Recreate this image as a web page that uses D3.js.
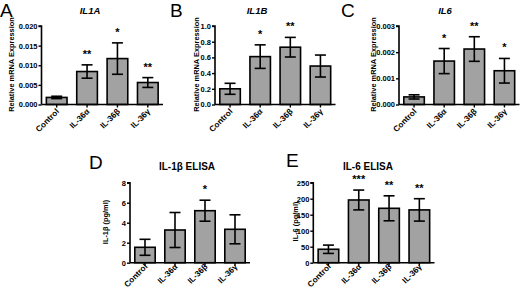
<!DOCTYPE html>
<html><head><meta charset="utf-8">
<script src="https://cdn.jsdelivr.net/npm/d3@7/dist/d3.min.js"></script>
<style>
body{margin:0;background:#fff;}
svg{display:block;font-family:"Liberation Sans",Arial,sans-serif;}
</style></head><body>
<svg id="chart" width="520" height="290"></svg>
<script>
const categories = ["Control", "IL-36α", "IL-36β", "IL-36γ"];

const il1aMean = [0.0018, 0.0084, 0.0117, 0.0056];
const il1aErr  = [0.0003, 0.0017, 0.0040, 0.00125];
const il1aStars = ["", "**", "*", "**"];
const il1aTicks = [0, 0.005, 0.010, 0.015, 0.020];

const il1bMean = [0.20, 0.61, 0.73, 0.49];
const il1bErr  = [0.07, 0.15, 0.125, 0.14];
const il1bStars = ["", "*", "**", ""];
const il1bTicks = [0, 0.2, 0.4, 0.6, 0.8, 1.0];

const il6Mean = [0.00029, 0.00166, 0.00212, 0.00129];
const il6Err  = [0.00008, 0.00048, 0.00047, 0.00047];
const il6Stars = ["", "*", "**", "*"];
const il6Ticks = [0, 0.001, 0.002, 0.003];

const elisa1bMean = [1.54, 3.27, 5.2, 3.34];
const elisa1bErr  = [0.8, 1.75, 1.05, 1.45];
const elisa1bStars = ["", "", "*", ""];
const elisa1bTicks = [0, 2, 4, 6, 8];

const elisa6Mean = [42, 196, 170, 165];
const elisa6Err  = [13, 31, 39, 35];
const elisa6Stars = ["", "***", "**", "**"];
const elisa6Ticks = [0, 50, 100, 150, 200, 250];

const svg = d3.select("#chart");

function panel(o) {
  const g = svg.append("g");
  const y = d3.scaleLinear().domain([0, o.ymax]).range([o.yb, o.yt]);
  const x = d3.scaleBand().domain(categories).range([o.x0, o.x1]).paddingInner(0.32).paddingOuter(0.16);

  g.selectAll("rect.bar").data(o.mean).enter().append("rect")
    .attr("x", (d, i) => x(categories[i]))
    .attr("width", x.bandwidth())
    .attr("y", d => y(d))
    .attr("height", d => y(0) - y(d))
    .attr("fill", "#a2a2a2").attr("stroke", "#000").attr("stroke-width", 1.6);

  const cap = 5.5;
  o.mean.forEach((m, i) => {
    const cx = x(categories[i]) + x.bandwidth() / 2;
    const e = o.err[i];
    const gg = g.append("g").attr("stroke", "#000").attr("stroke-width", 1.6);
    gg.append("line").attr("x1", cx).attr("x2", cx).attr("y1", y(m + e)).attr("y2", y(m - e));
    gg.append("line").attr("x1", cx - cap).attr("x2", cx + cap).attr("y1", y(m + e)).attr("y2", y(m + e));
    gg.append("line").attr("x1", cx - cap).attr("x2", cx + cap).attr("y1", y(m - e)).attr("y2", y(m - e));
    if (o.stars[i]) {
      g.append("text").attr("x", cx).attr("y", y(m + e) - 7)
        .attr("text-anchor", "middle").attr("font-size", 11).attr("font-weight", "bold")
        .text(o.stars[i]);
    }
  });

  const ya = d3.axisLeft(y).tickValues(o.ticks).tickSize(3).tickPadding(1).tickFormat(o.fmt);
  const yg = g.append("g").attr("transform", `translate(${o.x0},0)`).call(ya);
  yg.select(".domain").attr("stroke-width", 1.6).attr("d", `M-3,${o.yt}H0V${o.yb}`);
  yg.selectAll(".tick line").attr("stroke-width", 1.4);
  yg.selectAll("text").attr("font-size", 7.5).attr("font-weight", "bold").attr("font-family", "Liberation Sans, Arial, sans-serif");

  const xa = d3.axisBottom(x).tickSize(3).tickFormat("");
  const xg = g.append("g").attr("transform", `translate(0,${o.yb})`).call(xa);
  xg.select(".domain").attr("stroke-width", 1.6).attr("d", `M${o.x0},0H${o.x1}`);
  xg.selectAll(".tick line").attr("stroke-width", 1.4);
  categories.forEach(c => {
    const cx = x(c) + x.bandwidth() / 2;
    g.append("text").attr("transform", `translate(${cx + 3},${o.yb + o.lo}) rotate(-45)`)
      .attr("text-anchor", "end")
      .attr("font-size", 8.2).attr("font-weight", "bold").text(c);
  });

  g.append("text").attr("transform", `translate(${o.lx},${o.ly}) rotate(-90)`)
    .attr("text-anchor", "middle").attr("dy", "0.35em")
    .attr("font-size", 7.4).attr("font-weight", "bold").text(o.ylabel);

  g.append("text").attr("x", o.tx).attr("y", o.ty).attr("text-anchor", "middle")
    .attr("font-size", o.tsize).attr("font-weight", "bold").attr("font-style", o.italic ? "italic" : "normal")
    .text(o.title);

  g.append("text").attr("x", o.px).attr("y", o.py).attr("font-size", 19).text(o.letter);
}

const f3 = d3.format(".3f");
panel({mean: il1aMean, err: il1aErr, stars: il1aStars, ticks: il1aTicks, fmt: f3, ymax: 0.020,
  x0: 41.5, x1: 163, yt: 26, yb: 104.5, lo: 7.5, lx: 11, ly: 64.5, ylabel: "Relative mRNA Expression",
  title: "IL1A", italic: true, tx: 90, ty: 13.5, tsize: 9.5, letter: "A", px: 0, py: 17});
panel({mean: il1bMean, err: il1bErr, stars: il1bStars, ticks: il1bTicks, fmt: d3.format(".1f"), ymax: 1.0,
  x0: 215, x1: 335.5, yt: 26, yb: 104.5, lo: 7.5, lx: 196, ly: 64.5, ylabel: "Relative mRNA Expression",
  title: "IL1B", italic: true, tx: 257, ty: 13.5, tsize: 9.5, letter: "B", px: 170, py: 17});
panel({mean: il6Mean, err: il6Err, stars: il6Stars, ticks: il6Ticks, fmt: f3, ymax: 0.003,
  x0: 399, x1: 519.5, yt: 26, yb: 104.5, lo: 7.5, lx: 373, ly: 64.5, ylabel: "Relative mRNA Expression",
  title: "IL6", italic: true, tx: 445, ty: 13.5, tsize: 9.5, letter: "C", px: 341, py: 17});
panel({mean: elisa1bMean, err: elisa1bErr, stars: elisa1bStars, ticks: elisa1bTicks, fmt: d3.format("d"), ymax: 8,
  x0: 130, x1: 250, yt: 182.7, yb: 262.7, lo: 4.5, lx: 105, ly: 222, ylabel: "IL-1β (pg/ml)",
  title: "IL-1β ELISA", italic: false, tx: 187, ty: 170, tsize: 10, letter: "D", px: 89, py: 169});
panel({mean: elisa6Mean, err: elisa6Err, stars: elisa6Stars, ticks: elisa6Ticks, fmt: d3.format("d"), ymax: 250,
  x0: 313.3, x1: 434.5, yt: 182.7, yb: 262.7, lo: 4.5, lx: 295, ly: 221.5, ylabel: "IL-6 (pg/ml)",
  title: "IL-6 ELISA", italic: false, tx: 368, ty: 170, tsize: 10, letter: "E", px: 286, py: 167});
</script>
</body></html>
